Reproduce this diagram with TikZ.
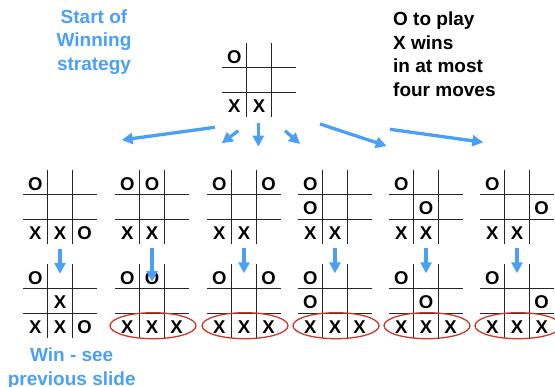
\documentclass[tikz,border=0pt]{standalone}
\usepackage{fontspec}
\setmainfont{Liberation Sans}
\usetikzlibrary{arrows.meta}
\definecolor{hintblue}{RGB}{74,160,245}
\definecolor{winred}{RGB}{205,55,40}

% \tttboard{name}{left}{top}{row/col/mark list}: a 74x74 noughts-and-crosses grid
\newcommand\tttboard[4]{%
  \node[inner sep=0pt,minimum width=74pt,minimum height=74pt] (#1) at ({#2+37},{#3+37}) {};
  \foreach \k in {1,2}{
    \draw[gridline] ({#2+\k*74/3},#3) -- ({#2+\k*74/3},{#3+74});
    \draw[gridline] (#2,{#3+\k*74/3}) -- ({#2+74},{#3+\k*74/3});
  }
  \foreach \r/\c/\m in {#4}{
    \node[xo] (#1-\r\c) at ({#2+(\c+0.5)*74/3},{#3+(\r+0.5)*74/3+1.5}) {\m};
  }
}

\begin{document}
\begin{tikzpicture}[x=1pt,y=-1pt,
  gridline/.style={draw=black!85,line width=1.1pt},
  xo/.style={font=\fontsize{18.5}{20}\selectfont\bfseries,inner sep=0pt},
  flow/.style={draw=hintblue,line width=3.3pt,-{Triangle[length=11pt,width=11pt]}},
  note/.style={font=\fontsize{19}{23.4}\selectfont\bfseries,inner sep=0pt},
  winring/.style={draw=winred,line width=1.3pt}]
\useasboundingbox (0,0) rectangle (555,387);

% captions
\node[note,text=hintblue,align=center,anchor=north] (start) at (94,9.5)
  {Start of\\Winning\\strategy};
\node[note,align=left,anchor=north west] (goal) at (393,12)
  {O to play\\X wins\\in at most\\four moves};
\node[note,text=hintblue,align=center,anchor=north] (win) at (71.7,348)
  {Win - see\\previous slide};

% initial position
\tttboard{top}{222}{43}{0/0/O,2/0/X,2/1/X}

% O's six replies
\tttboard{a1}{23}{170}{0/0/O,2/0/X,2/1/X,2/2/O}
\tttboard{a2}{115}{170}{0/0/O,0/1/O,2/0/X,2/1/X}
\tttboard{a3}{207}{170}{0/0/O,0/2/O,2/0/X,2/1/X}
\tttboard{a4}{298}{170}{0/0/O,1/0/O,2/0/X,2/1/X}
\tttboard{a5}{389}{170}{0/0/O,1/1/O,2/0/X,2/1/X}
\tttboard{a6}{480}{170}{0/0/O,1/2/O,2/0/X,2/1/X}

% X's answers
\tttboard{b1}{23}{264}{0/0/O,1/1/X,2/0/X,2/1/X,2/2/O}
\tttboard{b2}{115}{264}{0/0/O,0/1/O,2/0/X,2/1/X,2/2/X}
\tttboard{b3}{207}{264}{0/0/O,0/2/O,2/0/X,2/1/X,2/2/X}
\tttboard{b4}{298}{264}{0/0/O,1/0/O,2/0/X,2/1/X,2/2/X}
\tttboard{b5}{389}{264}{0/0/O,1/1/O,2/0/X,2/1/X,2/2/X}
\tttboard{b6}{480}{264}{0/0/O,1/2/O,2/0/X,2/1/X,2/2/X}

% winning rows
\foreach \b in {b2,b3,b4,b5,b6}{
  \draw[winring] ([xshift=1pt,yshift=-24.7pt]\b.center) ellipse [x radius=43pt,y radius=13pt];
}

% fan of arrows from the initial position
\coordinate (f1s) at (215,127.3);  \coordinate (f1e) at (121.7,140);
\coordinate (f2s) at (238.3,130.7); \coordinate (f2e) at (221.7,143.3);
\coordinate (f3s) at (258.3,122.7); \coordinate (f3e) at (258.3,146.7);
\coordinate (f4s) at (285,130.7);   \coordinate (f4e) at (300,144);
\coordinate (f5s) at (320,124);     \coordinate (f5e) at (386.7,146);
\coordinate (f6s) at (390,129.3);   \coordinate (f6e) at (483.3,142.3);
\foreach \i in {1,...,6}{ \draw[flow] (f\i s) -- (f\i e); }

% downward arrows between the rows
\draw[flow] ([yshift=-5pt]a1.south) -- ([yshift=-10pt]b1.north);
\draw[flow] ([yshift=-4pt]a2.south) -- ([yshift=-18pt]b2.north);
\foreach \i in {3,4,5,6}{
  \draw[flow] ([yshift=-4pt]a\i.south) -- ([yshift=-9.5pt]b\i.north);
}
\end{tikzpicture}
\end{document}
